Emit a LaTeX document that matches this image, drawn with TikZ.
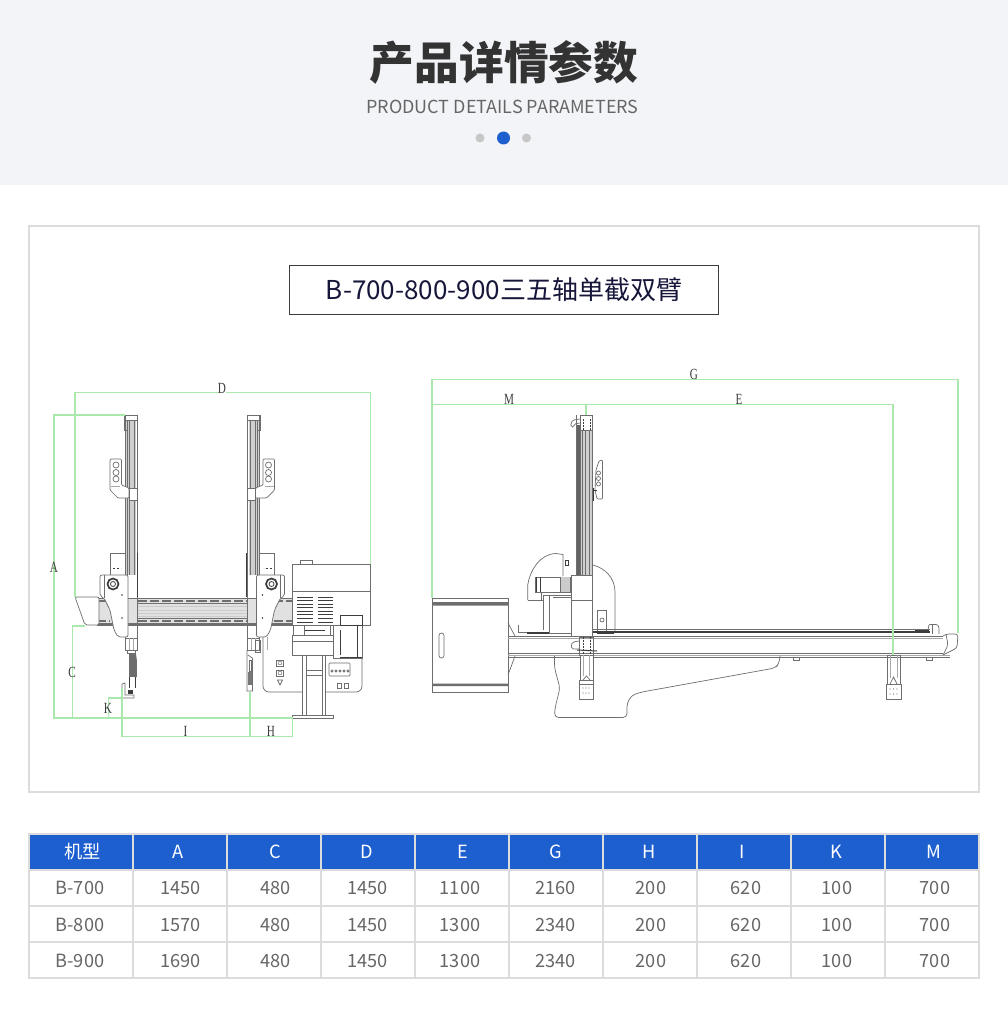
\documentclass[tikz,border=0pt]{standalone}
\usepackage{fontspec}
\newfontfamily\cjk{Noto Sans CJK SC}
\newfontfamily\dimfont{Liberation Serif}
\definecolor{bandbg}{HTML}{F3F4F8}
\definecolor{blueh}{HTML}{1E5FD0}
\definecolor{framec}{HTML}{DCDCDC}
\definecolor{dimg}{HTML}{ABE8AB}
\definecolor{cadg}{HTML}{6E6E6E}
\definecolor{cadl}{HTML}{A8A8A8}
\definecolor{cadd}{HTML}{3C3C3C}
\definecolor{txtd}{HTML}{333333}
\definecolor{txtm}{HTML}{666666}
\definecolor{navy}{HTML}{16163A}
\tikzset{
  x=1pt,y=-1pt,
  cad/.style={draw=cadg,line width=.7pt},
  cadlight/.style={draw=cadl,line width=.9pt},
  caddark/.style={draw=cadd,line width=1.3pt},
  dimline/.style={draw=dimg,line width=1.25pt},
  dimlabel/.style={font=\dimfont\fontsize{15.5}{15.5}\selectfont,text=cadd,inner sep=0pt,xscale=.72},
  cell/.style={font=\cjk\fontsize{18.2}{18.2}\selectfont,text=txtm,inner sep=0pt},
  headcell/.style={font=\cjk\fontsize{18.2}{18.2}\selectfont,text=white,inner sep=0pt},
  armpart/.pic={
    % column
    \draw[cad] (125,415) rectangle (137,638);
    \fill[cadl!55] (126,420) rectangle (136,575);
    \foreach \xx in {127,129.5,134.5} \draw[cadg,line width=.7pt] (\xx,420)--(\xx,575);
    \draw[cad] (124,415) rectangle (137,420);
    \draw[cad] (124.5,420)--(124.5,430)--(128,430);
    % bracket with three holes
    \draw[cad,fill=white,rounded corners=1pt] (110,459)--(121.5,459)--(121.5,485)--(129,488)--(129,498)--(118,498)--(110,490)--cycle;
    \foreach \yy in {465,472.5,479} \draw[cad] (116,\yy) circle (3);
    \draw[cad,fill=white] (129,488) rectangle (137,500);
    \draw[cadlight] (111,486)--(120,486);
    % carriage
    \draw[cad] (110,553) rectangle (125,575);
    \draw[cadd,line width=.8pt,dashed,dash pattern=on 2pt off 2pt] (113,568)--(121,568);
    \draw[caddark] (137.8,553)--(137.8,597);
    \draw[cad,fill=white,rounded corners=2pt] (100,575)--(128,575)--(128,637)--(118,637)--(114,630)--(110,610)--(104,598)--(100,596)--cycle;
    \draw[cad] (104,575)--(104,598);
    \draw[cadd,line width=1.7pt,fill=white] (113,584) circle (5.5);
    \draw[cadd,line width=.8pt] (113,584) circle (2.5);
    \fill[cadd] (122,595) circle (.9) (122,618) circle (.9);
    % lower slide
    \draw[cad] (125,638) rectangle (137,650);
    \draw[cadlight] (129,638)--(129,650) (133,638)--(133,650);
  },
}
\begin{document}
\begin{tikzpicture}
\useasboundingbox (0,0) rectangle (1008,1019);
\fill[white] (0,0) rectangle (1008,1019);
% header band
\fill[bandbg] (0,0) rectangle (1008,185);
\node[font=\cjk\bfseries\fontsize{44.7}{44.7}\selectfont,text=txtd,inner sep=0pt] (pagetitle) at (504,62) {产品详情参数};
\node[font=\cjk\fontsize{17.95}{17.95}\selectfont,text=txtm,inner sep=0pt] (subtitle) at (502.5,107) {PRODUCT DETAILS PARAMETERS};
\fill[black!22] (480,138) circle (4.5) (526.5,138) circle (4.5);
\fill[blueh] (503.5,138) circle (6.5);
% frame
\draw[framec,line width=2pt] (29,226) rectangle (979,792);
\node[draw=cadd,line width=.8pt,minimum width=429pt,minimum height=49pt,inner sep=0pt,font=\cjk\fontsize{26}{26}\selectfont,text=navy] (boxtitle) at (504,290) {B-700-800-900三五轴单截双臂};

% ===== left view =====
% cross beam
\fill[cadl!35] (97,598) rectangle (292,625);
\draw[cad] (97,598) rectangle (292,625);
\draw[caddark,draw=cadg] (97,598.5)--(292,598.5) (97,624)--(292,624);
\foreach \yy in {601,621} \draw[cadg,line width=1.6pt,dash pattern=on 9pt off 3pt] (138,\yy)--(247,\yy) (262,\yy)--(292,\yy) (97,\yy)--(110,\yy);
\foreach \yy in {606,610,613,616} \draw[cadl!60!white,line width=1pt] (138,\yy)--(247,\yy);
\draw[cad] (138,603.5)--(247,603.5) (138,618.5)--(247,618.5);
% end cap
\draw[cad,fill=white,rounded corners=2pt] (75,597)--(99,597)--(99,625)--(85,625)--cycle;
% arms
\pic {armpart};
\pic[xscale=-1] at (384.5,0) {armpart};
% left tool
\draw[cad] (127,650) rectangle (135,653);
\fill[cadd!75] (128.5,653) rectangle (135.5,677);
\draw[cad] (135.5,653)--(136.5,660)--(136.5,677);
\draw[cadd,line width=.7pt] (129,677)--(129,688) (135,677)--(135,688);
\draw[cad] (122,697)--(122,684)--(125,683)--(125,695)--(134,695)--(134,698)--(122,698);
\fill[cadd] (128,690) rectangle (133,694);
% right tool
\draw[cad] (247,650)--(247,691)--(252.5,691)--(252.5,658)--(248,655);
\fill[cadd!70] (248,672) rectangle (252,685);
\draw[cad] (249,660) rectangle (251,671);
\draw[cad] (255,640) rectangle (260,652);
% control panel
\draw[cad,rounded corners=6pt] (263,637)--(263,692)--(362,692)--(362,650);
\draw[cadl,line width=.5pt] (267,637)--(267,650);
\foreach \yy in {663,673} {\draw[cad] (276.5,\yy-3) rectangle (283,\yy+3); \draw[cadl,line width=.5pt] (278,\yy-1.5) rectangle (281.5,\yy+1.5);}
\draw[cad] (277.5,680)--(282.5,680)--(280,685)--cycle;
\draw[cad,fill=white,rounded corners=1pt] (329,663) rectangle (350,676);
\foreach \xx in {332,336,340,344,348} \draw[cad] (\xx,671) circle (1.2);
\draw[cad] (337,683) rectangle (341,688) (344,683) rectangle (348,688);
% column and base
\draw[cad,fill=white] (302,655) rectangle (325,715);
\draw[cad] (306,655)--(306,715) (322,655)--(322,715) (306,670)--(322,670) (306,675)--(322,675);
\draw[cad,fill=white] (292,715) rectangle (333,718);
% control box
\draw[cad,fill=white] (292,564) rectangle (370.5,625);
\draw[cad] (292,591.7)--(370.5,591.7);
\draw[cad,fill=white] (300,560) rectangle (312,564);
\foreach \yy in {597,600.5,604,607.5,611,614.5,618,622} \draw[cadd,line width=.8pt] (297,\yy)--(312.5,\yy) (318,\yy)--(333,\yy);
% under box
\draw[cad,fill=white] (292,635) rectangle (333,655);
\draw[cad] (292,641)--(333,641);
\draw[cad] (293,625)--(293,635) (304,626)--(304,635) (330,625)--(330,635);
\draw[cadd,line width=1pt] (305,630)--(325,630);
\draw[cad,fill=white] (333,625) rectangle (362,658);
\draw[cadd,line width=.8pt] (340,625) rectangle (362,615);
\draw[cadd,line width=.8pt] (340,655)--(340,630) (357,625)--(357,657) (340,657)--(362,657);

% ===== right view =====
\draw[cad] (432,598) rectangle (508,692);
\fill[cadg] (432,602) rectangle (508,605.5) (432,683.5) rectangle (508,686);
\draw[cad,rounded corners=2.4pt] (439,633) rectangle (444,658);
\draw[cad] (508,623)--(515,636) (508,675)--(515,656);
% stand
\draw[cad,rounded corners=4pt] (554.5,656)--(554.5,668)--(560,688)--(555,708)--(554.5,717.5)--(627,717.5)--(627,703)--(632,695)--(642,692)--(775,668)--(779,664)--(780,656);
% beam
\draw[cad] (508,636)--(943,636) (508,653)--(943,653);
\draw[cadlight] (508,638)--(943,638) (508,655)--(950,655);
\draw[cad] (508,657)--(950,657);
\foreach \xx in {796,929} \draw[cad] (\xx-3,657)--(\xx-3,660)--(\xx+3,660)--(\xx+3,657);
\draw[cad,rounded corners=3pt] (943,636)--(946,634)--(958,634)--(957,648)--(943,655);
\draw[cad,rounded corners=2pt] (946,634)--(948,645)--(943,655);
\draw[cadd,line width=2pt] (593,631.6)--(930,631.6);
\draw[cad] (593,629.5)--(930,629.5);
\draw[cadd,line width=2pt] (527,632.5)--(571,632.5);
\draw[cad,rounded corners=1pt] (928,630)--(929,624.5)--(937,624.5)--(939,627)--(939,634);
\draw[cad] (932,625)--(932,634);
\draw[cadd,line width=.8pt] (915,630)--(929,630);
% vertical column
\fill[cadl!55] (580,430) rectangle (592.7,575);
\draw[cad] (576.7,415)--(576.7,575) (592.7,415)--(592.7,575);
\fill[cadd!80] (576.7,425) rectangle (580,575);
\draw[cad] (580,415) rectangle (592.7,430);
\foreach \xx in {582,585,589} \draw[cadg,line width=.7pt] (\xx,430)--(\xx,575);
\draw[cad] (580,430)--(580,575);
\draw[cadd,line width=.8pt,dash pattern=on 1.5pt off 1.5pt] (583,419)--(583,430) (590,419)--(590,430);
\draw[cad,rounded corners=1.5pt] (580,419)--(573,420)--(571,423)--(571,427)--(574,427)--(574,424)--(580,423);
% side bracket
\draw[cad,rounded corners=1pt] (597,499)--(602.5,499)--(602.5,460)--(599,461)--(596,470)--(595,490)--cycle;
\foreach \yy in {473,478.5,484} \draw[cad] (598.5,\yy) circle (2);
\draw[cadd,line width=.8pt] (593,488)--(593,501) (593,490)--(597,490);
% carriage
\draw[cad,fill=white] (571.7,575) rectangle (592.7,636.7);
\draw[cad] (571.7,600)--(592.7,600);
\draw[cad] (592.7,565) .. controls (605,568) and (615,578) .. (615,592)--(615,631);
\draw[cad] (527.7,600)--(527.7,585) .. controls (530,570) and (540,554) .. (556,553.5)--(563,554.5)--(563,576);
\draw[cad] (527.7,600)--(543,600) (541.5,600)--(541.5,593);
\draw[cadd,line width=.9pt] (565,560) rectangle (568,565);
\draw[cad,fill=white] (535,577) rectangle (570,592);
\fill[cadl!60] (560,577) rectangle (570,592);
\draw[cadd,line width=1pt] (536,577)--(536,592) (540,577)--(540,592);
\draw[cad] (560,577)--(560,592);
\draw[cad,fill=white] (549,595) rectangle (571,633);
\draw[cad] (543,595)--(549,595) (543,595)--(543,630);
\draw[cad] (553,597)--(571,597);
\draw[cad] (597.5,610) rectangle (606,631);
\draw[cad] (602,620) circle (2);
\draw[cadd,line width=.9pt] (597,631) rectangle (613,633.5);
\draw[cad] (518,625)--(518,632) (518,632)--(527,632);
% hanging tool near
\draw[cad] (579,637) rectangle (593,655);
\draw[cadd,line width=.8pt,dash pattern=on 1.5pt off 1.5pt] (583,637)--(583,655) (590,637)--(590,655);
\draw[cad,rounded corners=1.5pt] (579,641)--(573,642)--(571,645)--(572,649)--(579,649);
\draw[cadd,line width=1pt] (577,650)--(597,651);
\draw[cad,fill=white] (580,655) rectangle (593,680);
\draw[cadl,line width=.6pt] (583.5,655)--(583.5,676) (589,655)--(589,676);
\draw[cad] (583,680)--(586.5,676)--(590,680);
\draw[cad] (579.5,684) rectangle (593,699);
\draw[cad] (579.5,680) rectangle (593,684);
\foreach \xx/\yy in {583/688,586/688,589/688,583/693,586/693,589/693} \fill[cadg] (\xx,\yy) circle (.7);
% hanging tool far
\draw[cad] (887,655) rectangle (900,684);
\draw[cadl,line width=.6pt] (890,655)--(890,678) (897,655)--(897,678);
\draw[cad] (890,684)--(893.5,677)--(897,684);
\draw[cad] (886,684) rectangle (901,699);
\foreach \xx/\yy in {890/689,893.5/689,897/689,890/694,893.5/694,897/694} \fill[cadg] (\xx,\yy) circle (.7);

% ===== dimension lines =====
\coordinate (dl1) at (75,392.7); \coordinate (dr1) at (370.5,392.7);
\draw[dimline] (75,597)--(dl1)--(dr1)--(370.5,564);
\draw[dimline] (125,415)--(54,415)--(54,718)--(292.5,718);
\draw[dimline] (85,626)--(72.5,626)--(72.5,718);
\draw[dimline] (122,698)--(108.5,698)--(108.5,718);
\draw[dimline] (122,688)--(122,736.7)--(292.5,736.7)--(292.5,718);
\draw[dimline] (250,692)--(250,736.7);
\draw[dimline] (432,598)--(432,379.3)--(958,379.3)--(958,633);
\draw[dimline] (432,404.3)--(893,404.3)--(893,655);
\draw[dimline] (586,404.3)--(586,415);
\node[dimlabel,fill=white] (dimD) at (222,388) {D};
\node[dimlabel] (dimA) at (54,567) {A};
\node[dimlabel] (dimC) at (72,672) {C};
\node[dimlabel] (dimK) at (108,708) {K};
\node[dimlabel] (dimI) at (185.5,731) {I};
\node[dimlabel] (dimH) at (271,731) {H};
\node[dimlabel] (dimG) at (694,374) {G};
\node[dimlabel] (dimM) at (509,399) {M};
\node[dimlabel] (dimE) at (739,399) {E};

% ===== table =====
\fill[blueh] (29,834) rectangle (979,869);
\draw[framec,line width=2pt] (29,834) rectangle (979,978);
\foreach \yy in {870,906,942} \draw[framec,line width=2pt] (29,\yy)--(979,\yy);
\foreach \xx in {133,227,321,415,509,603,697,791,885} \draw[framec,line width=2pt] (\xx,834)--(\xx,978);
\foreach \cname/\xx/\tt in {h0/82.5/机型,h1/178.5/A,h2/275/C,h3/367/D,h4/463/E,h5/555.5/G,h6/649/H,h7/742/I,h8/836/K,h9/933.5/M}
  \node[headcell] (\cname) at (\xx,852) {\tt};
\foreach \rn/\yy/\rowa/\rowb/\rowc/\rowd/\rowe in {r/887.7/B-700/1450/480/1100/2160, s/924.7/B-800/1570/480/1300/2340, t/960.7/B-900/1690/480/1300/2340}{
  \node[cell] (\rn0) at (80,\yy) {\rowa};
  \node[cell] (\rn1) at (180.5,\yy) {\rowb};
  \node[cell] (\rn2) at (275.5,\yy) {\rowc};
  \node[cell] (\rn3) at (367.5,\yy) {1450};
  \node[cell] (\rn4) at (460,\yy) {\rowd};
  \node[cell] (\rn5) at (555.5,\yy) {\rowe};
  \node[cell] (\rn6) at (651,\yy) {200};
  \node[cell] (\rn7) at (746,\yy) {620};
  \node[cell] (\rn8) at (837,\yy) {100};
  \node[cell] (\rn9) at (935,\yy) {700};
}
\end{tikzpicture}
\end{document}
